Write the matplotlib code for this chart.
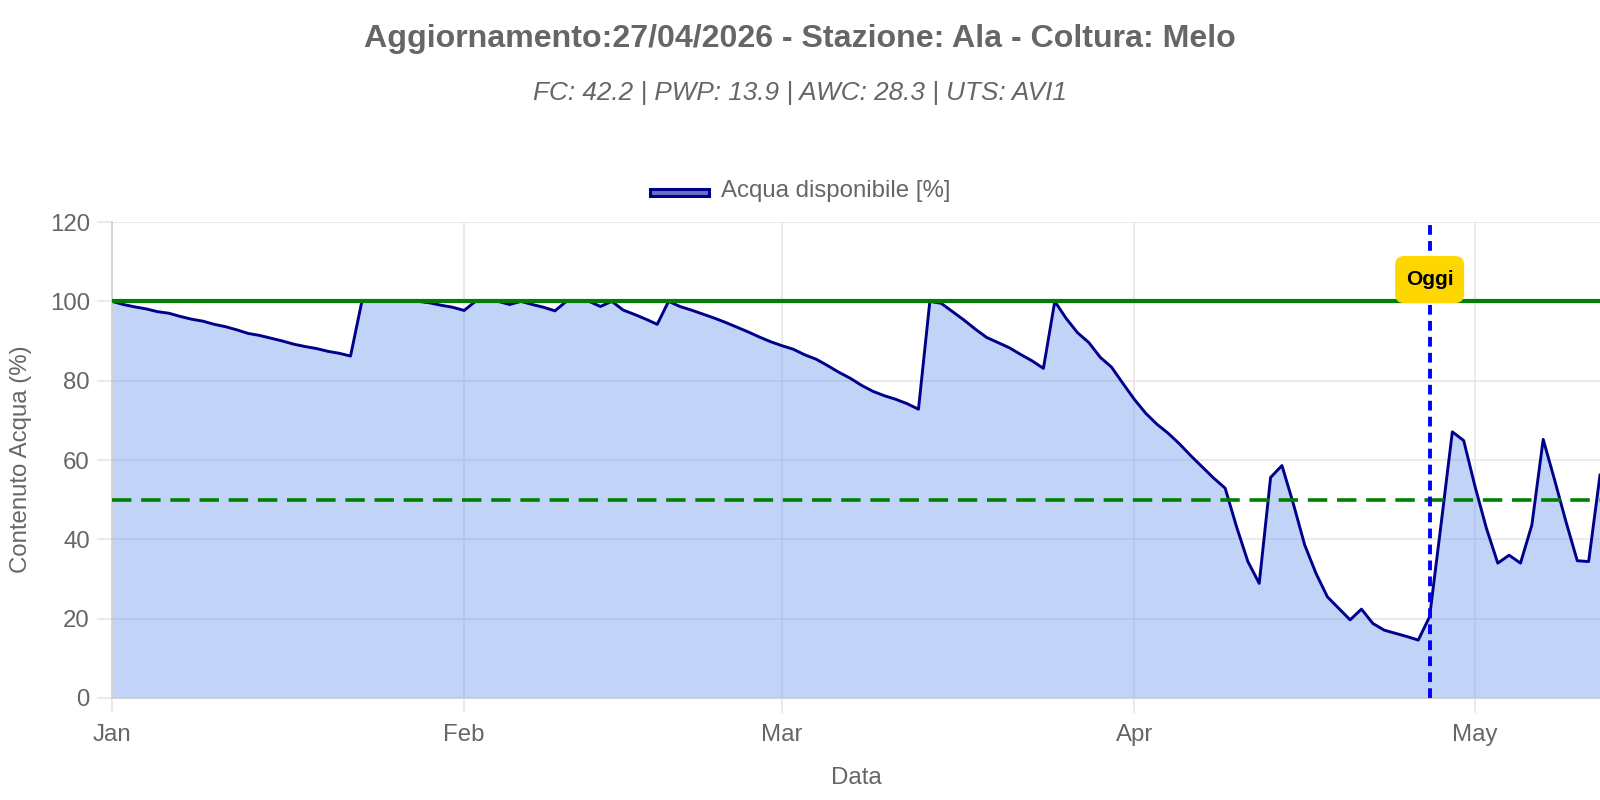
import matplotlib
matplotlib.use("Agg")
import matplotlib.pyplot as plt
import pandas as pd
import numpy as np
from matplotlib.patches import Rectangle, FancyBboxPatch
from matplotlib.transforms import IdentityTransform

plt.rcParams['font.family'] = ['Liberation Sans', 'DejaVu Sans']
plt.rcParams['lines.scale_dashes'] = False

# ---------------- data ----------------
title_text = "Aggiornamento:27/04/2026 - Stazione: Ala - Coltura: Melo"
subtitle_text = "FC: 42.2 | PWP: 13.9 | AWC: 28.3 | UTS: AVI1"
series_label = "Acqua disponibile [%]"
y_label = "Contenuto Acqua (%)"
x_label = "Data"
oggi_label = "Oggi"
start_date = "2026-01-01"
oggi_date = "2026-04-27"
capacita_campo = 100
soglia_intervento = 50
month_ticks = ["2026-01-01", "2026-02-01", "2026-03-01", "2026-04-01", "2026-05-01"]
month_labels = ["Jan", "Feb", "Mar", "Apr", "May"]
y_ticks = [0, 20, 40, 60, 80, 100, 120]

acqua_disponibile = [
    100, 99.2, 98.6, 98.1, 97.4, 97.0, 96.2, 95.5, 95.0, 94.2,
    93.6, 92.8, 91.9, 91.4, 90.7, 90.0, 89.2, 88.6, 88.1, 87.4,
    86.9, 86.2, 100, 100, 100, 100, 100, 100, 99.6, 99.0,
    98.5, 97.7, 100, 100, 100, 99.2, 100, 99.2, 98.5, 97.6,
    100, 100, 100, 98.7, 100, 97.8, 96.7, 95.5, 94.2, 100,
    98.7, 97.8, 96.8, 95.8, 94.7, 93.5, 92.3, 91.0, 89.8, 88.8,
    87.9, 86.5, 85.4, 83.8, 82.1, 80.6, 78.8, 77.3, 76.2, 75.3,
    74.2, 72.8, 100, 99.5, 97.4, 95.3, 93.0, 90.9, 89.6, 88.3,
    86.6, 85.0, 83.1, 100, 95.7, 92.1, 89.6, 85.9, 83.4, 79.3,
    75.3, 71.8, 69.0, 66.7, 64.0, 61.0, 58.2, 55.4, 52.9, 43.2,
    34.4, 28.9, 55.6, 58.6, 49.0, 38.6, 31.4, 25.5, 22.6, 19.7,
    22.4, 18.8, 17.1, 16.3, 15.5, 14.6, 20.5, 43.6, 67.1, 64.9,
    53.3, 42.8, 34.0, 36.0, 34.0, 43.6, 65.2, 55.0, 44.5, 34.6,
    34.4, 56.2,
]

dates = pd.date_range(start_date, periods=len(acqua_disponibile), freq="D")

# ---------------- figure ----------------
W, H = 1600, 800
fig = plt.figure(figsize=(16, 8), dpi=100)
ax_left, ax_right, ax_top, ax_bottom = 112, 1600, 222, 698
ax = fig.add_axes([ax_left / W, (H - ax_bottom) / H,
                   (ax_right - ax_left) / W, (ax_bottom - ax_top) / H])

txt = "#666666"
grid_c = "#e4e4e4"

ax.fill_between(dates, acqua_disponibile, 0, color=(100/255, 149/255, 237/255),
                alpha=0.4, linewidth=0, zorder=2)
ax.plot(dates, acqua_disponibile, color="#00008B", lw=2.1, zorder=4)

ax.axhline(capacita_campo, color="#008000", lw=3.0, zorder=5)
ax.axhline(soglia_intervento, color="#008000", lw=2.6, zorder=5,
           dashes=(14, 7))
oggi = pd.Timestamp(oggi_date)
ax.axvline(oggi, color="#0000FF", lw=2.8, zorder=6, dashes=(7, 4.5))

ax.set_xlim(dates[0], dates[-1])
ax.set_ylim(0, 120)
ax.set_yticks(y_ticks)
ax.set_xticks(pd.to_datetime(month_ticks))
ax.set_xticklabels(month_labels)

ax.set_axisbelow(True)
ax.grid(True, color=grid_c, lw=1.1)
for s in ["top", "right"]:
    ax.spines[s].set_visible(False)
for s in ["left", "bottom"]:
    ax.spines[s].set_color("#cfcfcf")
    ax.spines[s].set_linewidth(1.2)
ax.tick_params(axis="both", colors=grid_c, length=11, width=1.1,
               labelcolor=txt, labelsize=17.3)
ax.tick_params(axis="x", pad=7.5)
ax.tick_params(axis="y", pad=5)

# Oggi badge (pixel-sized rounded box)
fig.canvas.draw()
cx, cy = ax.transData.transform((ax.xaxis.convert_units(oggi), 105.5))
bw, bh, r = 69, 47, 9
badge = FancyBboxPatch((cx - bw / 2 + r, cy - bh / 2 + r), bw - 2 * r, bh - 2 * r,
                       boxstyle=f"round,pad={r},rounding_size={r}",
                       transform=IdentityTransform(), facecolor="#FFD700",
                       edgecolor="none", zorder=8)
fig.add_artist(badge)
fig.text(cx / W, cy / H, oggi_label, ha="center", va="center", fontsize=15,
         fontweight="bold", color="black", zorder=9)

# axis titles
fig.text(21 / W, 1 - 459 / H, y_label, rotation=90, ha="center", va="center",
         fontsize=17.3, color=txt)
fig.text(856 / W, 1 - 778 / H, x_label, ha="center", va="center",
         fontsize=17.3, color=txt)

# titles
fig.text(800 / W, 1 - 39 / H, title_text, ha="center", va="center",
         fontsize=23.1, fontweight="bold", color=txt)
fig.text(800 / W, 1 - 93 / H, subtitle_text, ha="center", va="center",
         fontsize=18.8, fontstyle="italic", color=txt)

# legend
fig.patches.append(Rectangle((650 / W, (H - 196) / H), 59 / W, 7 / H,
                             transform=fig.transFigure, facecolor="#6670c8",
                             edgecolor="#00008B", lw=2.2))
fig.text(721 / W, 1 - 191 / H, series_label, ha="left", va="center",
         fontsize=17.3, color=txt)

fig.savefig("out.png", dpi=100)
